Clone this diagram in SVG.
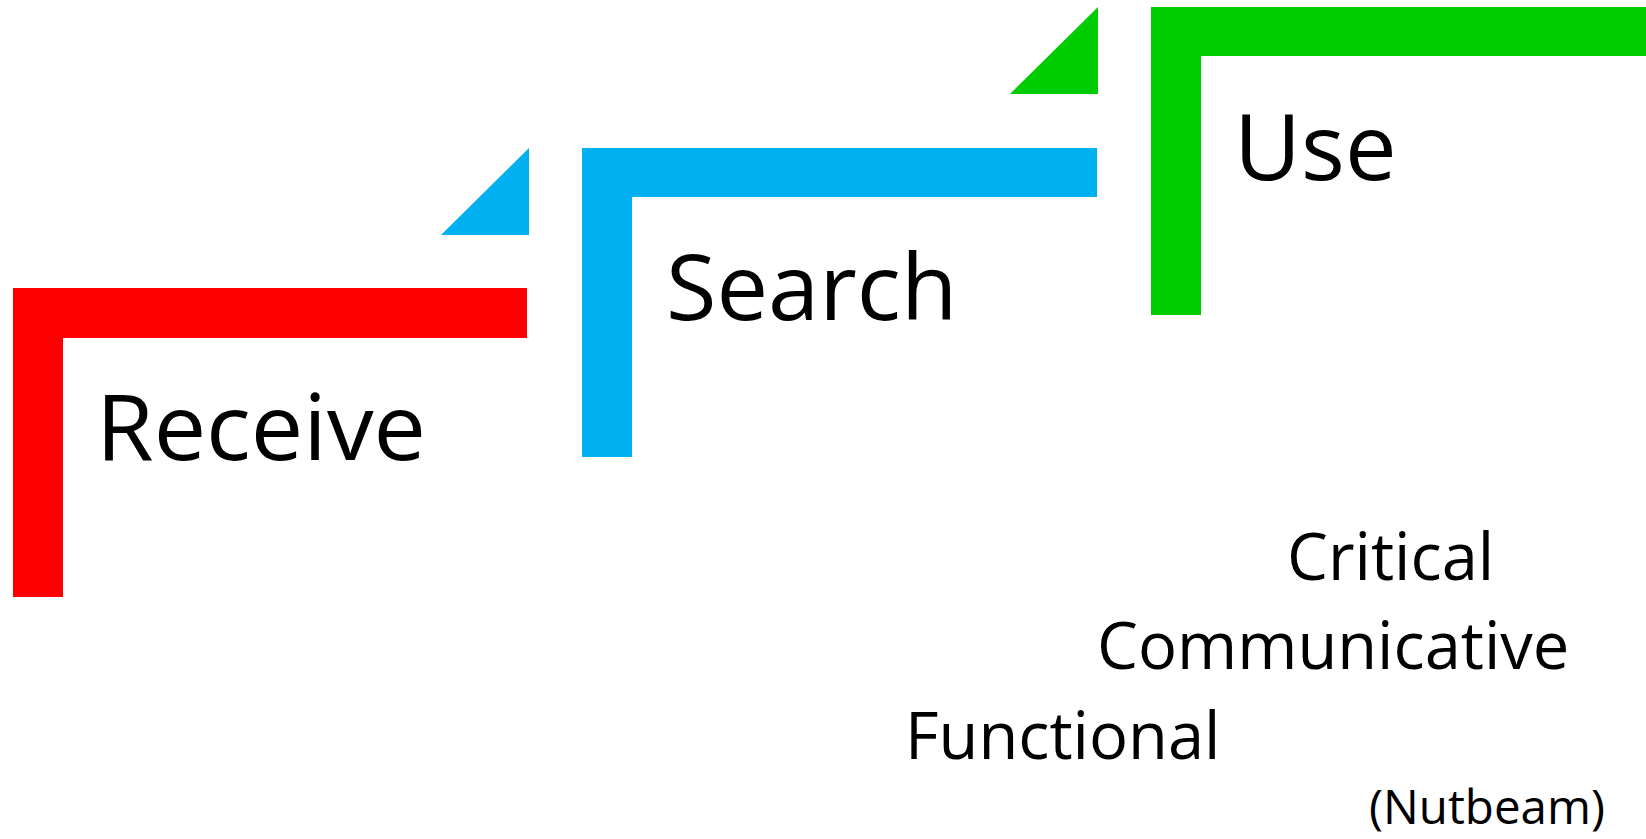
<svg xmlns="http://www.w3.org/2000/svg" width="1646" height="839" viewBox="0 0 1646 839">
  <style>
    .red { fill: #FF0000; }
    .blue { fill: #00B0F0; }
    .green { fill: #00CC00; }
    .step { font-family: "Open Sans", "Liberation Sans", sans-serif; font-size: 92px; fill: #000000; }
    .level { font-family: "Open Sans", "Liberation Sans", sans-serif; font-size: 65px; fill: #000000; }
    .cite { font-family: "Open Sans", "Liberation Sans", sans-serif; font-size: 47.5px; fill: #000000; }
  </style>
  <rect width="1646" height="839" fill="#FFFFFF"/>

  <!-- Step 1: Receive -->
  <g id="receive">
    <path class="red" d="M13 288 H527 V338 H63 V597 H13 Z"/>
    <text class="step" x="96" y="460" textLength="330" lengthAdjust="spacingAndGlyphs">Receive</text>
  </g>

  <!-- Step 2: Search -->
  <g id="search">
    <polygon class="blue" points="441,235 529,148 529,235"/>
    <path class="blue" d="M582 148 H1097 V197 H632 V457 H582 Z"/>
    <text class="step" x="666" y="320">Search</text>
  </g>

  <!-- Step 3: Use -->
  <g id="use">
    <polygon class="green" points="1010,94 1098,7 1098,94"/>
    <path class="green" d="M1151 7 H1646 V56 H1201 V315 H1151 Z"/>
    <text class="step" x="1234" y="180">Use</text>
  </g>

  <!-- Literacy levels -->
  <g id="levels">
    <text class="level" x="1287" y="580">Critical</text>
    <text class="level" x="1097" y="669">Communicative</text>
    <text class="level" x="905" y="759">Functional</text>
    <text class="cite" x="1369" y="824">(Nutbeam)</text>
  </g>

  <g id="connectors"/>
</svg>
